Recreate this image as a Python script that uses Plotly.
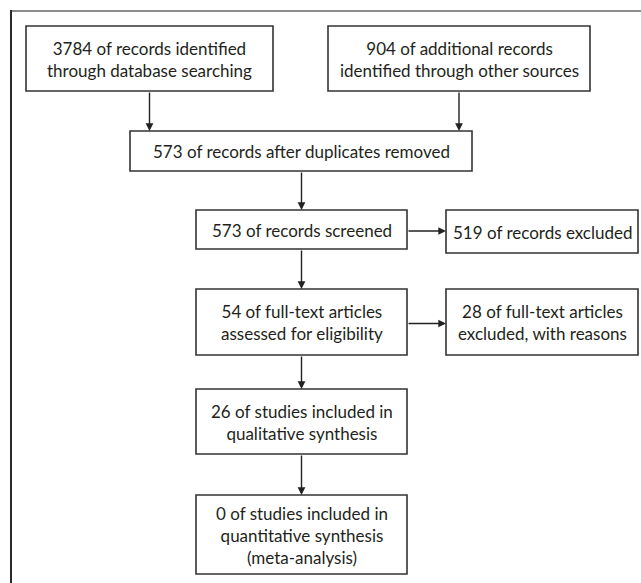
import plotly.graph_objects as go

# ---- content (data) ----
box_labels = [
    "3784 of records identified<br>through database searching",
    "904 of additional records<br>identified through other sources",
    "573 of records after duplicates removed",
    "573 of records screened",
    "519 of records excluded",
    "54 of full-text articles<br>assessed for eligibility",
    "28 of full-text articles<br>excluded, with reasons",
    "26 of studies included in<br>qualitative synthesis",
    "0 of studies included in<br>quantitative synthesis<br>(meta-analysis)",
]
# flow links: (from box index, to box index)
links = [(0, 2), (1, 2), (2, 3), (3, 4), (3, 5), (5, 6), (5, 7), (7, 8)]

# ---- layout geometry (pixels: x0, y0, x1, y1) ----
box_geom = [
    (26, 26, 273, 91),
    (328, 26, 590, 91),
    (130, 131, 472, 171),
    (196, 210, 407, 249),
    (446, 210, 638, 253),
    (196, 289, 407, 355),
    (446, 289, 638, 355),
    (196, 389, 407, 454),
    (196, 495, 407, 574),
]

W, H = 641, 583
FONT = "Lato, Carlito, Calibri, sans-serif"
LINE = "#333333"
TXT = "#231f20"

fig = go.Figure()
shapes = []
annotations = []

# outer frame
shapes.append(dict(type="line", xref="x", yref="y", x0=10, y0=11, x1=W + 5, y1=11,
                   line=dict(color="#8c8c8c", width=2)))
shapes.append(dict(type="line", xref="x", yref="y", x0=11, y0=10, x1=11, y1=H + 5,
                   line=dict(color="#2a2a2a", width=2)))

for lab, (x0, y0, x1, y1) in zip(box_labels, box_geom):
    shapes.append(dict(type="rect", xref="x", yref="y", x0=x0, y0=y0, x1=x1, y1=y1,
                       line=dict(color=LINE, width=1.6), fillcolor="white"))
    annotations.append(dict(x=(x0 + x1) / 2, y=(y0 + y1) / 2 + 0.5, xref="x", yref="y",
                            text=lab, showarrow=False, align="center",
                            font=dict(family=FONT, size=17, color=TXT)))


def arrow(src, dst):
    sx0, sy0, sx1, sy1 = box_geom[src]
    dx0, dy0, dx1, dy1 = box_geom[dst]
    if dy0 >= sy1:  # vertical
        if src == 0 or src == 1:
            x = (sx0 + sx1) / 2
            x = min(max(x, dx0 + 13), dx1 - 13)
        else:
            x = (dx0 + dx1) / 2
        return dict(x=x, y=dy0, ax=x, ay=sy1)
    else:  # horizontal
        y = (sy0 + sy1) / 2 + 1.5
        return dict(x=dx0, y=y, ax=sx1, ay=y)


for s, d in links:
    a = arrow(s, d)
    annotations.append(dict(xref="x", yref="y", axref="x", ayref="y",
                            x=a["x"], y=a["y"], ax=a["ax"], ay=a["ay"],
                            text="", showarrow=True, arrowhead=2, arrowsize=1.1,
                            arrowwidth=1.4, arrowcolor="#222222", standoff=0,
                            startstandoff=0))

fig.update_layout(
    width=W, height=H,
    margin=dict(l=0, r=0, t=0, b=0),
    paper_bgcolor="white", plot_bgcolor="white",
    xaxis=dict(range=[0, W], visible=False, fixedrange=True),
    yaxis=dict(range=[H, 0], visible=False, fixedrange=True),
    shapes=shapes, annotations=annotations, showlegend=False,
)

fig.write_html("out.html", config={"displayModeBar": False},
               post_script="document.body.style.margin='0px';document.body.style.overflow='hidden';")
